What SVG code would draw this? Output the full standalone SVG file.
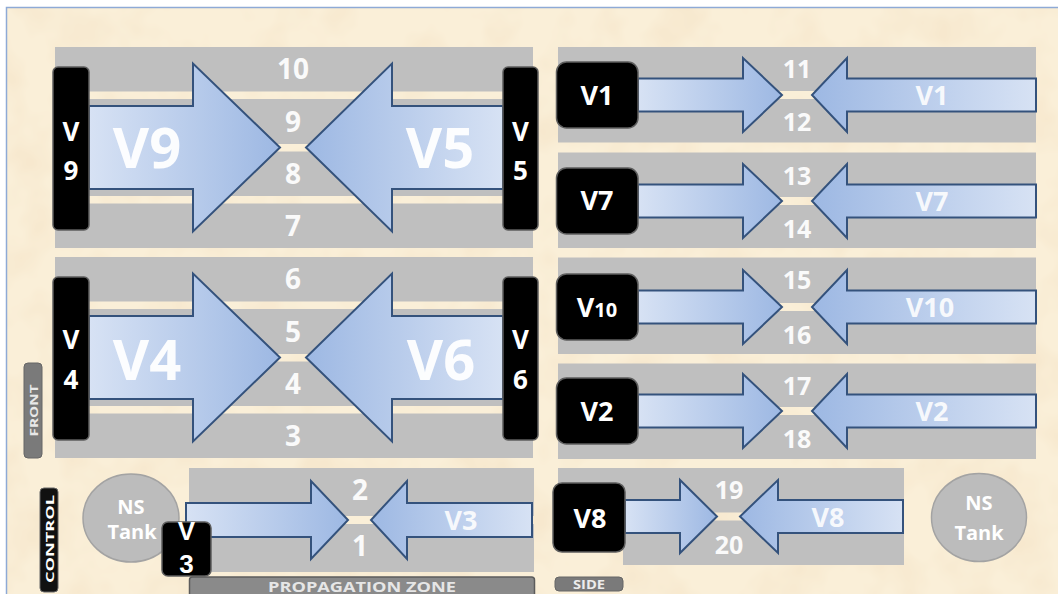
<svg xmlns="http://www.w3.org/2000/svg" width="1058" height="594" viewBox="0 0 1058 594">
  <defs>
    <style>
      .lane{fill:#bfbfbf}
      .bar{fill:#000;stroke:#5e5e5e;stroke-width:1.5}
      .flow{stroke:#34527c;stroke-width:2;stroke-linejoin:miter}
      .fr{fill:url(#flowR)}
      .fl{fill:url(#flowL)}
      .t{font-family:"Open Sans","Liberation Sans",sans-serif;font-weight:700;text-anchor:middle}
      .num{fill:#fafafa;font-size:28px}
      .numS{fill:#fafafa;font-size:25px}
      .big{fill:#fff;fill-opacity:.94;font-size:56px}
      .lbl{fill:#fff;fill-opacity:.88;font-size:27px}
      .key{fill:#fff;font-size:27px}
      .bar-t{fill:#fff;font-size:26px}
      .tank{fill:#bcbcbc;stroke:#a3a3a3;stroke-width:1.5}
      .tank-t{fill:#fff;font-size:20px}
      .tag{fill:#7a7a7a;stroke:#666;stroke-width:1}
      .tag-t{fill:#e8e8e8;font-size:11px}
    </style>
    <linearGradient id="flowR" x1="0" y1="0" x2="1" y2="0">
      <stop offset="0" stop-color="#d7e2f4"/>
      <stop offset="1" stop-color="#9db8e3"/>
    </linearGradient>
    <linearGradient id="flowL" x1="1" y1="0" x2="0" y2="0">
      <stop offset="0" stop-color="#d7e2f4"/>
      <stop offset="1" stop-color="#9db8e3"/>
    </linearGradient>
    <filter id="parchment" x="0" y="0" width="100%" height="100%">
      <feTurbulence type="fractalNoise" baseFrequency="0.02" numOctaves="3" seed="7"/>
      <feColorMatrix type="matrix" values="0 0 0 0 0.93  0 0 0 0 0.81  0 0 0 0 0.62  0 0 0 2.6 -1.1"/>
    </filter>
  </defs>

  <!-- page and parchment ground -->
  <rect x="0" y="0" width="1058" height="594" fill="#fff"/>
  <rect x="7" y="8" width="1051" height="586" fill="#faefd8"/>
  <rect x="7" y="8" width="1051" height="586" filter="url(#parchment)"/>
  <path d="M6.5,594 V7.5 H1058" fill="none" stroke="#8eaad6" stroke-width="1.5"/>

  <!-- zone lanes -->
  <g id="zone-front-upper">
    <rect class="lane" x="55" y="47" width="478" height="44.5"/>
    <rect class="lane" x="55" y="99" width="478" height="45"/>
    <rect class="lane" x="55" y="151.5" width="478" height="44.5"/>
    <rect class="lane" x="55" y="203.5" width="478" height="44.5"/>
  </g>
  <g id="zone-front-lower">
    <rect class="lane" x="55" y="257" width="478" height="44.5"/>
    <rect class="lane" x="55" y="309" width="478" height="45"/>
    <rect class="lane" x="55" y="361.5" width="478" height="44.5"/>
    <rect class="lane" x="55" y="413.5" width="478" height="44.5"/>
  </g>
  <g id="zone-side">
    <rect class="lane" x="558" y="47" width="478" height="44"/>
    <rect class="lane" x="558" y="99" width="478" height="43.5"/>
    <rect class="lane" x="558" y="152.5" width="478" height="44.5"/>
    <rect class="lane" x="558" y="205" width="478" height="43"/>
    <rect class="lane" x="558" y="257.5" width="478" height="45.5"/>
    <rect class="lane" x="558" y="311" width="478" height="43"/>
    <rect class="lane" x="558" y="363.5" width="478" height="43.5"/>
    <rect class="lane" x="558" y="415" width="478" height="44"/>
  </g>
  <g id="zone-control">
    <rect class="lane" x="189" y="468" width="345" height="48"/>
    <rect class="lane" x="189" y="524" width="345" height="48"/>
  </g>
  <g id="zone-side-low">
    <rect class="lane" x="558" y="468" width="346" height="44.5"/>
    <rect class="lane" x="623" y="520.5" width="281" height="44.5"/>
  </g>

  <!-- flow arrows -->
  <g id="connectors">
    <path class="flow fr" d="M89,106 H193 V63.5 L280,147.5 L193,231.5 V189 H89 Z"/>
    <path class="flow fl" d="M503,106 H392 V63.5 L306,147.5 L392,231.5 V189 H503 Z"/>
    <path class="flow fr" d="M89,316 H193 V273.5 L280,357.5 L193,441.5 V399 H89 Z"/>
    <path class="flow fl" d="M503,316 H392 V273.5 L306,357.5 L392,441.5 V399 H503 Z"/>

    <path class="flow fr" d="M638,78.5 H743 V58 L782,95 L743,132 V111.5 H638 Z"/>
    <path class="flow fl" d="M1036,78.5 H847 V58 L812,95 L847,132 V111.5 H1036 Z"/>
    <path class="flow fr" d="M638,184.5 H743 V164 L782,201 L743,238 V217.5 H638 Z"/>
    <path class="flow fl" d="M1036,184.5 H847 V164 L812,201 L847,238 V217.5 H1036 Z"/>
    <path class="flow fr" d="M638,290.5 H743 V270 L782,307 L743,344 V323.5 H638 Z"/>
    <path class="flow fl" d="M1036,290.5 H847 V270 L812,307 L847,344 V323.5 H1036 Z"/>
    <path class="flow fr" d="M638,394.5 H743 V374 L782,411 L743,448 V427.5 H638 Z"/>
    <path class="flow fl" d="M1036,394.5 H847 V374 L812,411 L847,448 V427.5 H1036 Z"/>

    <path class="flow fr" d="M186,503 H311 V481 L348,520 L311,559 V537 H186 Z"/>
    <path class="flow fl" d="M532,503 H407 V481 L371,520 L407,559 V537 H532 Z"/>

    <path class="flow fr" d="M625,500 H680 V480 L717,516.5 L680,553 V533 H625 Z"/>
    <path class="flow fl" d="M903,500 H778 V480 L740,516.5 L778,553 V533 H903 Z"/>
  </g>

  <!-- lane numbers -->
  <g id="lane-numbers" class="t">
    <text class="num" x="293" y="79">10</text>
    <text class="num" x="293" y="131.5">9</text>
    <text class="num" x="293" y="184">8</text>
    <text class="num" x="293" y="236">7</text>
    <text class="num" x="293" y="289">6</text>
    <text class="num" x="293" y="341.5">5</text>
    <text class="num" x="293" y="394">4</text>
    <text class="num" x="293" y="446">3</text>
    <text class="numS" x="797" y="78">11</text>
    <text class="numS" x="797" y="130.5">12</text>
    <text class="numS" x="797" y="185">13</text>
    <text class="numS" x="797" y="238">14</text>
    <text class="numS" x="797" y="289">15</text>
    <text class="numS" x="797" y="344">16</text>
    <text class="numS" x="797" y="395">17</text>
    <text class="numS" x="797" y="448">18</text>
    <text class="num" x="360" y="500">2</text>
    <text class="num" x="360" y="556">1</text>
    <text class="numS" x="729" y="499">19</text>
    <text class="numS" x="729" y="554">20</text>
  </g>

  <!-- labels on flows -->
  <g id="flow-labels" class="t">
    <text class="big" x="147" y="168">V9</text>
    <text class="big" x="440" y="168">V5</text>
    <text class="big" x="147" y="380">V4</text>
    <text class="big" x="441" y="380">V6</text>
    <text class="lbl" x="932" y="104.5">V1</text>
    <text class="lbl" x="932" y="210.5">V7</text>
    <text class="lbl" x="930" y="317">V10</text>
    <text class="lbl" x="932" y="421">V2</text>
    <text class="lbl" x="461" y="529.5">V3</text>
    <text class="lbl" x="828" y="526.5">V8</text>
  </g>

  <!-- tanks -->
  <g id="tank-control">
    <ellipse class="tank" cx="131" cy="518" rx="48" ry="44"/>
    <text class="t tank-t" x="131" y="514">NS</text>
    <text class="t tank-t" x="132" y="539">Tank</text>
  </g>
  <g id="tank-side">
    <ellipse class="tank" cx="979" cy="517.5" rx="47.5" ry="44"/>
    <text class="t tank-t" x="979" y="510">NS</text>
    <text class="t tank-t" x="979" y="540">Tank</text>
  </g>

  <!-- valves -->
  <g id="valve-v9">
    <rect class="bar" x="53" y="67" width="36" height="163" rx="5"/>
    <text class="t bar-t" x="71" y="140.5">V</text>
    <text class="t bar-t" x="71" y="180">9</text>
  </g>
  <g id="valve-v5">
    <rect class="bar" x="503" y="67" width="35" height="163" rx="5"/>
    <text class="t bar-t" x="520.5" y="140.5">V</text>
    <text class="t bar-t" x="520.5" y="180">5</text>
  </g>
  <g id="valve-v4">
    <rect class="bar" x="53" y="277" width="36" height="163" rx="5"/>
    <text class="t bar-t" x="71" y="349">V</text>
    <text class="t bar-t" x="71" y="389">4</text>
  </g>
  <g id="valve-v6">
    <rect class="bar" x="503" y="277" width="35" height="163" rx="5"/>
    <text class="t bar-t" x="520.5" y="349">V</text>
    <text class="t bar-t" x="520.5" y="389">6</text>
  </g>
  <g id="valve-v1">
    <rect class="bar" x="556.5" y="62" width="81.5" height="66" rx="10"/>
    <text class="t key" x="597" y="104.5">V1</text>
  </g>
  <g id="valve-v7">
    <rect class="bar" x="556.5" y="168" width="81.5" height="66" rx="10"/>
    <text class="t key" x="597" y="210">V7</text>
  </g>
  <g id="valve-v10">
    <rect class="bar" x="556.5" y="274" width="81.5" height="66" rx="10"/>
    <text class="t key" x="597" y="316.5">V<tspan font-size="20">10</tspan></text>
  </g>
  <g id="valve-v2">
    <rect class="bar" x="556.5" y="378" width="81.5" height="66" rx="10"/>
    <text class="t key" x="597" y="420.5">V2</text>
  </g>
  <g id="valve-v8">
    <rect class="bar" x="553" y="483" width="72" height="69" rx="9"/>
    <text class="t key" x="590" y="528" font-size="31">V8</text>
  </g>
  <g id="valve-v3">
    <rect class="bar" x="162" y="522" width="49" height="54" rx="6"/>
    <text x="186.5" y="540" font-family="'Liberation Sans', Arial, sans-serif" font-weight="700" font-size="26" fill="#fff" text-anchor="middle">V</text>
    <text x="186.5" y="573" font-family="'Liberation Sans', Arial, sans-serif" font-weight="700" font-size="26" fill="#fff" text-anchor="middle">3</text>
  </g>

  <!-- area tags -->
  <g id="tag-front">
    <rect class="tag" x="24" y="363" width="18" height="95" rx="4"/>
    <text class="t tag-t" transform="translate(37.5,410.5) rotate(-90)" textLength="52" lengthAdjust="spacingAndGlyphs">FRONT</text>
  </g>
  <g id="tag-control">
    <rect x="40" y="488" width="18" height="104" rx="4" fill="#111" stroke="#666" stroke-width="1"/>
    <text class="t tag-t" style="fill:#fff" transform="translate(53.5,539) rotate(-90)" textLength="88" lengthAdjust="spacingAndGlyphs">CONTROL</text>
  </g>
  <g id="tag-propagation">
    <rect x="189.5" y="577" width="345" height="22" rx="3" fill="#8a8a8a" stroke="#5c5c5c" stroke-width="1.5"/>
    <text class="t" x="362" y="592" font-size="14.5" fill="#e6e6e6" textLength="188" lengthAdjust="spacingAndGlyphs">PROPAGATION ZONE</text>
  </g>
  <g id="tag-side">
    <rect class="tag" x="555" y="577" width="68" height="14" rx="4"/>
    <text class="t" x="589" y="589" font-size="12" fill="#ececec" textLength="32" lengthAdjust="spacingAndGlyphs">SIDE</text>
  </g>
</svg>
